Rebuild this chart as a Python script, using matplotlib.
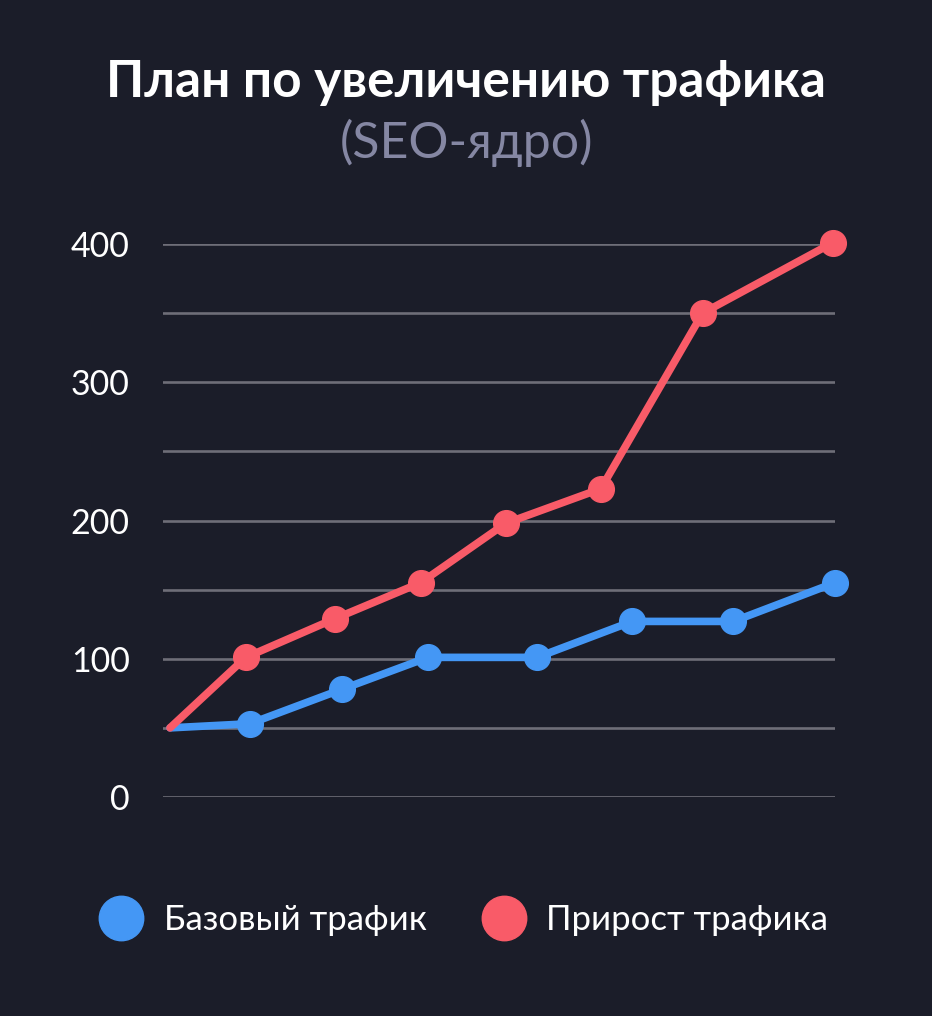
import matplotlib
matplotlib.use("Agg")
import matplotlib.pyplot as plt
from matplotlib.lines import Line2D

# data (x in arbitrary position units)
base_x = [0, 1.20, 2.59, 3.88, 5.52, 6.95, 8.47, 10.0]
base_y = [50, 53, 78, 101, 101, 127, 127, 155]
growth_x = [0, 1.14, 2.48, 3.77, 5.05, 6.48, 8.01, 9.97]
growth_y = [50, 101, 129, 155, 198, 223, 350, 401]
y_ticks = [0, 100, 200, 300, 400]
labels = ["Базовый трафик", "Прирост трафика"]

BG = "#1b1d29"
BLUE = "#4497f5"
RED = "#f95b68"
GRID = "#6e6e78"

plt.rcParams["font.family"] = ["Lato", "DejaVu Sans"]

fig = plt.figure(figsize=(9.32, 10.16), dpi=100, facecolor=BG)
ax = fig.add_axes([163 / 932, 1 - 797 / 1016, 672 / 932, 553 / 1016])
ax.set_facecolor(BG)

ax.plot(base_x, base_y, color=BLUE, lw=5.5, marker="o", ms=18.5,
        markevery=slice(1, None), solid_capstyle="round", clip_on=False, zorder=3)
ax.plot(growth_x, growth_y, color=RED, lw=5.5, marker="o", ms=18.5,
        markevery=slice(1, None), solid_capstyle="round", clip_on=False, zorder=4)

ax.set_xlim(-0.105, 10.0)
ax.set_ylim(0, 400)
ax.set_yticks(y_ticks)
ax.set_yticks(range(50, 400, 100), minor=True)
ax.set_xticks([])
ax.grid(axis="y", which="both", color=GRID, lw=1.9)
ax.set_axisbelow(True)
ax.tick_params(axis="y", which="both", length=0, pad=24, labelsize=24.5, labelcolor="white")
for s in ax.spines.values():
    s.set_visible(False)

fig.text(0.5, 1 - 97 / 1016, "План по увеличению трафика", ha="center", va="baseline",
         color="white", fontsize=37, fontweight="bold")
fig.text(0.5, 1 - 158 / 1016, "(SEO-ядро)", ha="center", va="baseline",
         color="#8587a3", fontsize=36)

handles = [Line2D([], [], ls="none", marker="o", ms=32, color=c) for c in (BLUE, RED)]
fig.legend(handles, labels, loc="center", bbox_to_anchor=(463 / 932, 1 - 920 / 1016),
           ncol=2, frameon=False, fontsize=25, labelcolor="white",
           handlelength=1.35, handletextpad=0.55, columnspacing=1.55)

fig.savefig("out.png", dpi=100, facecolor=BG)
